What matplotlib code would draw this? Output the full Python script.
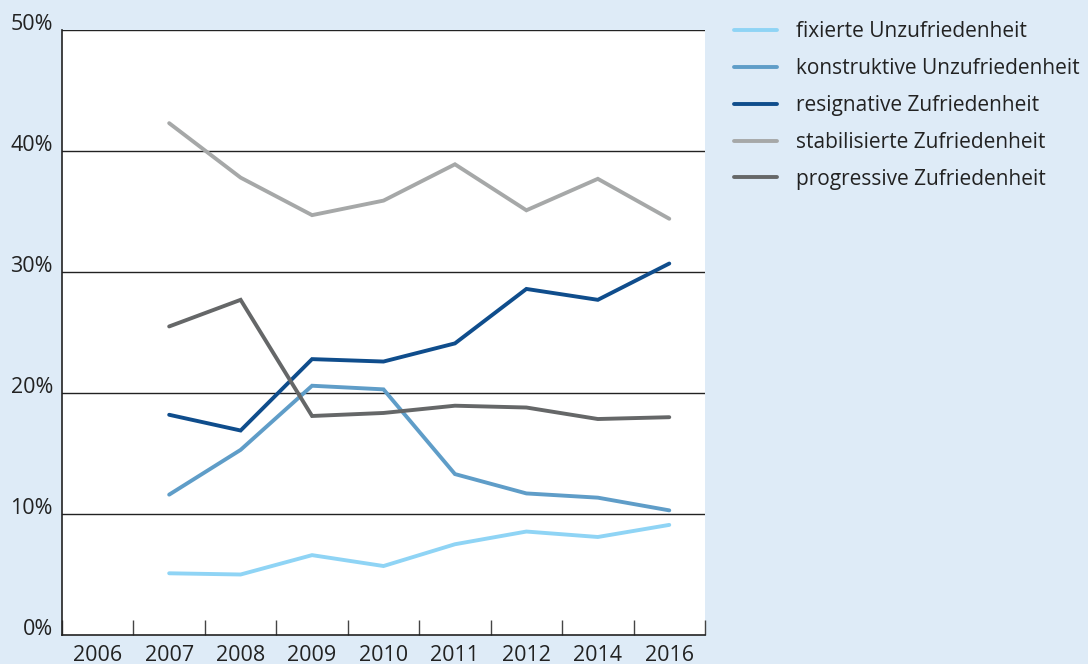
import matplotlib
matplotlib.use("Agg")
import matplotlib.pyplot as plt
import numpy as np

plt.rcParams["font.family"] = ["Open Sans", "DejaVu Sans"]

years = ["2006", "2007", "2008", "2009", "2010", "2011", "2012", "2014", "2016"]
# series start in 2007 (no value for 2006)
fixiert = [None, 5.1, 5.0, 6.6, 5.7, 7.5, 8.55, 8.1, 9.1]
konstruktiv = [None, 11.6, 15.3, 20.6, 20.3, 13.3, 11.7, 11.35, 10.3]
resignativ = [None, 18.2, 16.9, 22.8, 22.6, 24.1, 28.6, 27.7, 30.7]
stabilisiert = [None, 42.3, 37.8, 34.7, 35.9, 38.9, 35.1, 37.7, 34.4]
progressiv = [None, 25.5, 27.7, 18.1, 18.35, 18.95, 18.8, 17.85, 18.0]

series = [
    ("fixierte Unzufriedenheit", fixiert, "#8fd4f5"),
    ("konstruktive Unzufriedenheit", konstruktiv, "#5f9dc8"),
    ("resignative Zufriedenheit", resignativ, "#0f4d8c"),
    ("stabilisierte Zufriedenheit", stabilisiert, "#a6a8a8"),
    ("progressive Zufriedenheit", progressiv, "#656768"),
]

BG = "#deebf7"
FS = 15.5
fig = plt.figure(figsize=(10.88, 6.64), dpi=100, facecolor=BG)
ax = fig.add_axes([62 / 1088, 1 - 635 / 664, 643 / 1088, 605 / 664])
ax.set_facecolor("white")

x = np.arange(len(years))
for label, vals, color in series:
    v = np.array([np.nan if val is None else val for val in vals], dtype=float)
    ax.plot(x, v, color=color, lw=2.8, label=label, solid_capstyle="round",
            solid_joinstyle="miter")

ax.set_xlim(-0.5, len(years) - 0.5)
ax.set_ylim(0, 50)

# horizontal grid lines at each 10 %
yt = [0, 10, 20, 30, 40, 50]
for yv in yt[1:]:
    ax.axhline(yv, color="#222222", lw=1.0, zorder=0.5)
ax.set_yticks(yt)
ax.set_yticklabels([f"{v}%" for v in yt], va="baseline", fontsize=FS, color="#222222")
ax.tick_params(axis="y", length=0, pad=6.5)

# year labels centred, tick marks on the category borders
ax.set_xticks(x)
ax.set_xticklabels(years, fontsize=FS, color="#222222")
ax.tick_params(axis="x", which="major", length=0, pad=7)
ax.set_xticks(np.arange(len(years) + 1) - 0.5, minor=True)
ax.tick_params(axis="x", which="minor", direction="in", length=11, width=1.0,
               color="#444444")

for side in ("top", "right"):
    ax.spines[side].set_visible(False)
for side in ("left", "bottom"):
    ax.spines[side].set_color("#222222")
    ax.spines[side].set_linewidth(1.2)

leg = fig.legend(loc="upper left", bbox_to_anchor=(726 / 1088, 1 - 13 / 664),
                 frameon=False, fontsize=15.0, handlelength=2.05, handletextpad=0.9,
                 labelspacing=0.76, borderaxespad=0)
for t in leg.get_texts():
    t.set_color("#222222")

fig.savefig("out.png", dpi=100, facecolor=BG)
